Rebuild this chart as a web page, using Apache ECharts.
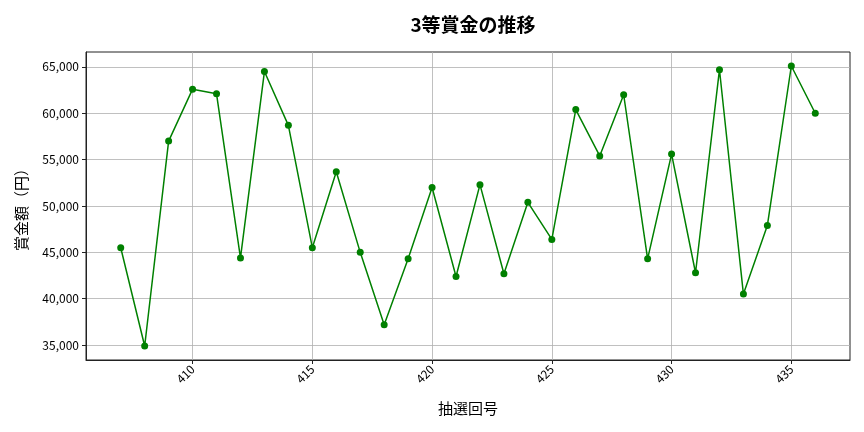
<!DOCTYPE html>
<html>
<head>
<meta charset="utf-8">
<script src="https://cdn.jsdelivr.net/npm/echarts@6/dist/echarts.min.js"></script>
<style>html,body{margin:0;padding:0;background:#fff;}#c{width:864px;height:432px;}</style>
</head>
<body>
<div id="c"></div>
<script>
const draws = [407,408,409,410,411,412,413,414,415,416,417,418,419,420,421,422,423,424,425,426,427,428,429,430,431,432,433,434,435,436];
const prizes = [45500,34900,57000,62600,62100,44400,64500,58700,45500,53700,45000,37200,44300,52000,42400,52300,42700,50400,46400,60400,55400,62000,44300,55600,42800,64700,40500,47900,65100,60000];
const xTicks = [410,415,420,425,430,435];
const yTicks = [35000,40000,45000,50000,55000,60000,65000];

const font = '"Noto Sans CJK JP", "DejaVu Sans", sans-serif';
const chart = echarts.init(document.getElementById('c'));
chart.setOption({
  animation: false,
  backgroundColor: '#fff',
  title: {
    text: '3等賞金の推移',
    left: 468, top: 10, textAlign: 'center',
    textStyle: {fontFamily: font, fontSize: 19, fontWeight: 'bold', color: '#000'}
  },
  grid: {left: 86, right: 14, top: 52, bottom: 72, containLabel: false,
    show: true, borderColor: '#222', borderWidth: 1, backgroundColor: 'transparent'},
  xAxis: {
    type: 'value',
    min: 405.55, max: 437.45,
    name: '抽選回号', nameLocation: 'middle', nameGap: 41,
    nameTextStyle: {fontFamily: font, fontSize: 15, color: '#000'},
    axisLine: {show: true, onZero: false, lineStyle: {color: '#222', width: 1}},
    axisTick: {show: true, customValues: xTicks, length: 4, lineStyle: {color: '#222'}},
    axisLabel: {customValues: xTicks, rotate: 45, fontFamily: font, fontSize: 12, color: '#000', margin: 7},
    splitLine: {show: true, lineStyle: {color: '#b0b0b0', width: 0.8}}
  },
  yAxis: {
    type: 'value',
    min: 33390, max: 66610,
    name: '賞金額（円）', nameLocation: 'middle', nameGap: 57, nameRotate: 90,
    nameTextStyle: {fontFamily: font, fontSize: 15, color: '#000'},
    axisLine: {show: true, lineStyle: {color: '#222', width: 1}},
    axisTick: {show: true, customValues: yTicks, length: 4, lineStyle: {color: '#222'}},
    axisLabel: {customValues: yTicks, fontFamily: font, fontSize: 12, color: '#000', margin: 7,
      formatter: v => v.toLocaleString('en-US')},
    splitLine: {show: true, lineStyle: {color: '#b0b0b0', width: 0.8}}
  },
  series: [{
    type: 'line',
    data: draws.map((d, i) => [d, prizes[i]]),
    symbol: 'circle', symbolSize: 7,
    lineStyle: {color: '#008000', width: 1.5},
    itemStyle: {color: '#008000'}
  }]
});
</script>
</body>
</html>
